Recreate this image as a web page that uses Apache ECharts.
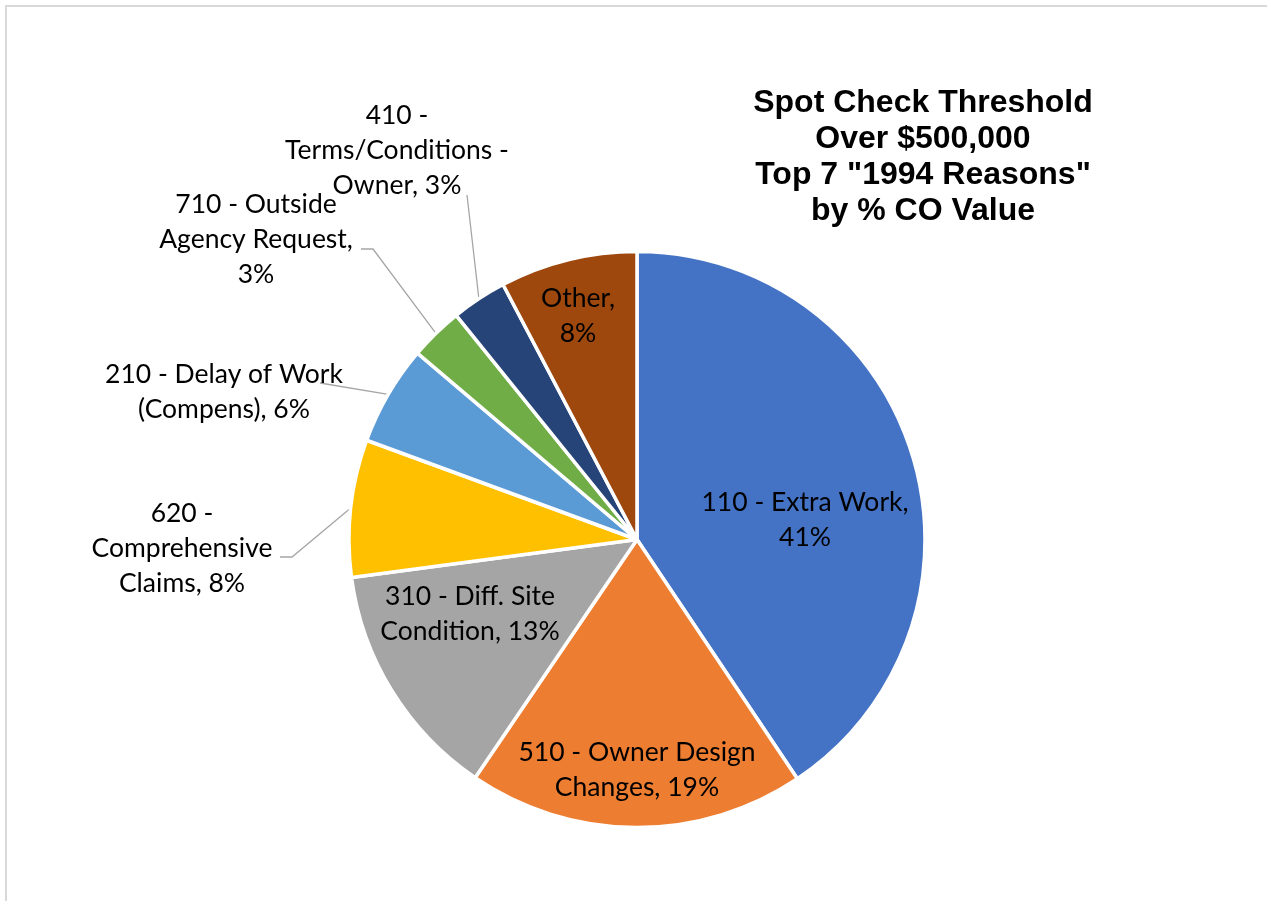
<!DOCTYPE html>
<html>
<head>
<meta charset="utf-8">
<title>Spot Check Threshold - Top 7 1994 Reasons</title>
<script src="https://cdn.jsdelivr.net/npm/echarts@6/dist/echarts.min.js"></script>
<style>
  html, body { margin: 0; padding: 0; background: #fff; }
  #chart { width: 1267px; height: 901px; }
</style>
</head>
<body>
<div id="chart"></div>
<script>
// 1994 reasons, share of CO value in %
var categories = [
  '110 - Extra Work',
  '510 - Owner Design\nChanges',
  '310 - Diff. Site\nCondition',
  '620 -\nComprehensive\nClaims',
  '210 - Delay of Work\n(Compens)',
  '710 - Outside\nAgency Request',
  '410 -\nTerms/Conditions -\nOwner',
  'Other'
]
var shares = [40.6, 18.9, 13.4, 7.7, 5.6, 3.0, 3.1, 7.7]
var titleLines = ['Spot Check Threshold', 'Over $500,000', 'Top 7 "1994 Reasons"', 'by % CO Value']

var colors = ['#4472C4', '#ED7D31', '#A5A5A5', '#FFC000', '#5B9BD5', '#70AD47', '#264478', '#9E480E']

// label centres, and leader line points relative to the label centre
var labelSpots = [[805, 520], [637, 770], [470, 614], [182, 548], [224, 392], [256, 239], [397, 150], [578, 316]]
var insideLabel = [true, true, true, false, false, false, false, true]
var pctOnNewLine = [true, false, false, false, false, true, false, true]
var guideOffsets = [null, null, null, [110, 9, 98, 9], [96, -9], [117, 10, 105, 10], [70, 45], null]

var myChart = echarts.init(document.getElementById('chart'))

var option = {
  animation: false,
  title: {
    text: titleLines.join('\n'),
    left: 923,
    top: 85,
    padding: 0,
    textAlign: 'center',
    textStyle: {
      fontFamily: 'Liberation Sans',
      fontWeight: 'bold',
      fontSize: 32,
      lineHeight: 36,
      color: '#000'
    }
  },
  graphic: [
    {
      type: 'polyline',
      shape: { points: [[6, 901], [6, 6], [1267, 6]] },
      style: { stroke: '#d9d9d9', lineWidth: 2, fill: null }
    }
  ],
  series: [
    {
      type: 'pie',
      center: [637, 539.5],
      radius: 288,
      startAngle: 90,
      clockwise: true,
      avoidLabelOverlap: false,
      itemStyle: {
        borderColor: '#fff',
        borderWidth: 3.5
      },
      label: {
        color: '#000',
        fontFamily: 'Lato',
        fontSize: 26.5,
        lineHeight: 35,
        formatter: function (p) {
          return p.name + ',' + (pctOnNewLine[p.dataIndex] ? '\n' : ' ') + Math.round(p.percent) + '%'
        }
      },
      labelLine: {
        length: 20,
        length2: 10,
        lineStyle: { color: '#a6a6a6', width: 1.3 }
      },
      labelLayout: function (p) {
        var i = p.dataIndex
        var spot = labelSpots[i]
        var res = { x: spot[0], y: spot[1], align: 'center', verticalAlign: 'middle' }
        var g = guideOffsets[i]
        if (g && p.labelLinePoints) {
          var pts = [p.labelLinePoints[0]]
          for (var k = 0; k < g.length; k += 2) {
            pts.push([spot[0] + g[k], spot[1] + g[k + 1]])
          }
          res.labelLinePoints = pts
        }
        return res
      },
      emphasis: { disabled: true },
      data: categories.map(function (name, i) {
        return {
          name: name,
          value: shares[i],
          itemStyle: { color: colors[i] },
          label: { position: insideLabel[i] ? 'inside' : 'outside' },
          labelLine: { show: !insideLabel[i] }
        }
      })
    }
  ]
}

option && myChart.setOption(option)
</script>
</body>
</html>
